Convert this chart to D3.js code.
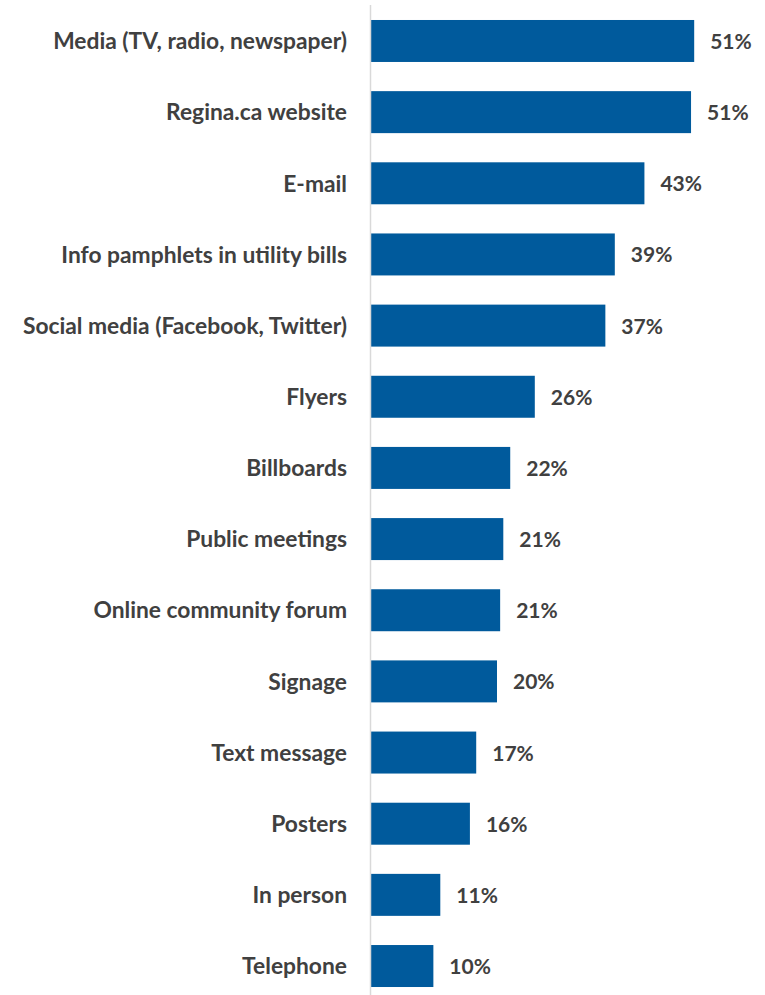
<!DOCTYPE html>
<html>
<head>
<meta charset="utf-8">
<script src="https://cdn.jsdelivr.net/npm/d3@7"></script>
<style>
  html, body { margin: 0; padding: 0; background: #ffffff; }
  svg { display: block; }
  text { font-family: Lato, "Open Sans", sans-serif; font-weight: bold; fill: #404040; }
</style>
</head>
<body>
<div id="chart"></div>
<script>
const categories = [
  "Media (TV, radio, newspaper)",
  "Regina.ca website",
  "E-mail",
  "Info pamphlets in utility bills",
  "Social media (Facebook, Twitter)",
  "Flyers",
  "Billboards",
  "Public meetings",
  "Online community forum",
  "Signage",
  "Text message",
  "Posters",
  "In person",
  "Telephone"
];
const values = [51.3, 50.8, 43.4, 38.7, 37.2, 26.0, 22.1, 21.0, 20.5, 20.0, 16.7, 15.7, 11.0, 9.9];
const valueLabels = ["51%", "51%", "43%", "39%", "37%", "26%", "22%", "21%", "21%", "20%", "17%", "16%", "11%", "10%"];

const W = 765, H = 995;
const x0 = 371;
const svg = d3.select("#chart").append("svg").attr("width", W).attr("height", H);

const x = d3.scaleLinear().domain([0, 100]).range([x0, x0 + 630]);
const y = d3.scaleBand().domain(categories).range([5.4, 1001.6]).paddingInner(0.41).paddingOuter(0.205);

svg.append("g").selectAll("rect").data(categories).join("rect")
  .attr("x", x(0))
  .attr("y", d => y(d))
  .attr("width", (d, i) => x(values[i]) - x(0))
  .attr("height", y.bandwidth())
  .attr("fill", "#005a9c");

svg.append("line")
  .attr("x1", 370.5).attr("x2", 370.5)
  .attr("y1", 5).attr("y2", H)
  .attr("stroke", "#d9d9d9").attr("stroke-width", 1.5);

svg.append("g").selectAll("text.cat").data(categories).join("text")
  .attr("class", "cat")
  .attr("x", 347)
  .attr("y", d => y(d) + y.bandwidth() / 2)
  .attr("dy", "0.36em")
  .attr("text-anchor", "end")
  .attr("font-size", 22.8)
  .text(d => d);

svg.append("g").selectAll("text.val").data(categories).join("text")
  .attr("class", "val")
  .attr("x", (d, i) => x(values[i]) + 16)
  .attr("y", d => y(d) + y.bandwidth() / 2)
  .attr("dy", "0.38em")
  .attr("font-size", 21)
  .text((d, i) => valueLabels[i]);
</script>
</body>
</html>
